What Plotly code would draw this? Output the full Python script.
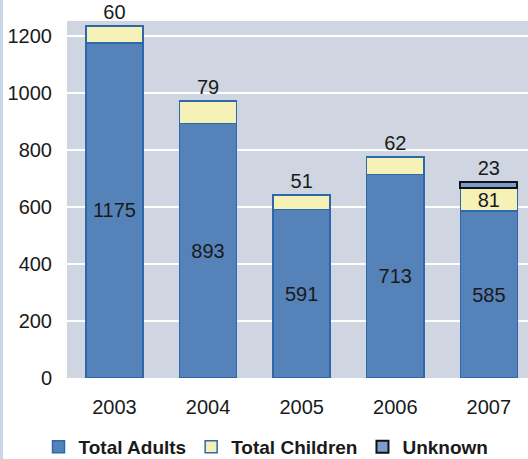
import plotly.graph_objects as go

years = ["2003", "2004", "2005", "2006", "2007"]
adults = [1175, 893, 591, 713, 585]
children = [60, 79, 51, 62, 81]
unknown = [None, None, None, None, 23]
y_ticks = [0, 200, 400, 600, 800, 1000, 1200]

FONT = "Liberation Sans, Arial, sans-serif"
lab_font = dict(family=FONT, size=20, color="#1a1a1a")

fig = go.Figure()
fig.add_bar(
    x=years, y=adults, name="Total Adults",
    marker=dict(color="#5582B9", line=dict(color="#2C68AA", width=1.5)),
    text=[str(v) for v in adults], textposition="inside", insidetextanchor="middle",
    insidetextfont=lab_font, constraintext="none", textangle=0,
)
fig.add_bar(
    x=years, y=children, name="Total Children",
    marker=dict(color="#F5F1B7", line=dict(color="#2C68AA", width=1.5)),
    text=[str(v) for v in children],
    textposition=["outside", "outside", "outside", "outside", "inside"],
    insidetextanchor="middle", textangle=0,
    insidetextfont=lab_font, outsidetextfont=lab_font, constraintext="none",
    cliponaxis=False,
)
fig.add_bar(
    x=years, y=unknown, name="Unknown",
    marker=dict(color="#7B9DCD", line=dict(color="#111111", width=2)),
    text=["" if v is None else str(v) for v in unknown], textposition="outside",
    outsidetextfont=lab_font, constraintext="none", cliponaxis=False, textangle=0,
)

W, H = 528, 459
L, R, T, B = 67, 0, 21, 81
pw = W - L - R
ph = H - T - B

fig.update_layout(
    width=W, height=H,
    margin=dict(l=L, r=R, t=T, b=B, autoexpand=False),
    barmode="stack", bargap=0.39,
    plot_bgcolor="#CFD6E1", paper_bgcolor="white",
    font=dict(family=FONT, size=20, color="#1a1a1a"),
    xaxis=dict(showgrid=False, ticks="", ticklabelstandoff=15, automargin=False,
               range=[-0.507, 4.418],
               tickfont=dict(family=FONT, size=20, color="#1a1a1a"), showline=False),
    yaxis=dict(range=[0, 1252], tickvals=y_ticks, showgrid=True, gridcolor="white",
               gridwidth=2, zeroline=False, ticklabelstandoff=14, automargin=False,
               tickfont=dict(family=FONT, size=20, color="#1a1a1a")),
    legend=dict(orientation="h", x=(266 - L) / pw, xanchor="center",
                y=-(447 - 378) / ph, yanchor="middle",
                font=dict(family=FONT, size=19, color="#1a1a1a", weight="bold"),
                traceorder="normal", itemwidth=30, tracegroupgap=0),
    showlegend=True,
    shapes=[dict(type="rect", xref="paper", yref="paper",
                 x0=-L / pw, x1=-(L - 3) / pw, y0=-B / ph, y1=1 + T / ph,
                 fillcolor="#CAD6EA", line=dict(width=0), layer="below")],
)

fig.write_html("out.html",
               config={"displayModeBar": False},
               post_script="document.body.style.margin='0';document.body.style.overflow='hidden';")
